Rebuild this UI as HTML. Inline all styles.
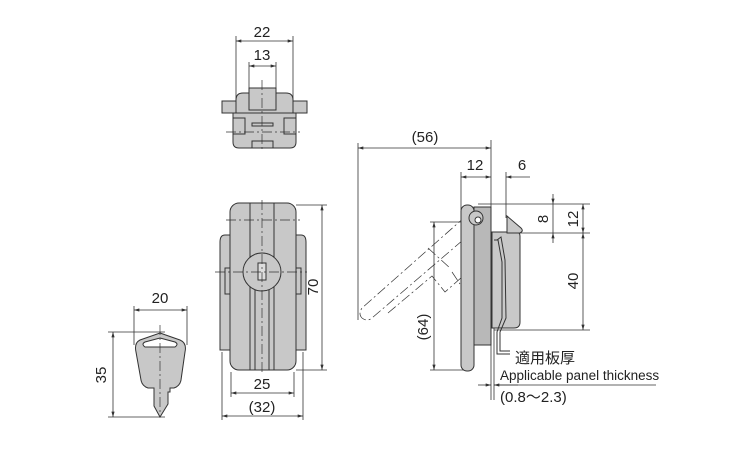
<!DOCTYPE html>
<html><head><meta charset="utf-8"><style>
html,body{margin:0;padding:0;background:#fff;}
svg{display:block;}
text{font-family:"Liberation Sans","Noto Sans CJK JP",sans-serif;fill:#222;}
</style></head><body>
<svg width="750" height="450" viewBox="0 0 750 450" xmlns="http://www.w3.org/2000/svg">
<defs>
<marker id="a" viewBox="0 0 10 6" refX="10" refY="3" markerWidth="7" markerHeight="4" orient="auto-start-reverse"><path d="M0,0L10,3L0,6z" fill="#333"/></marker>
</defs>
<g stroke="#333" stroke-width="0.8" fill="none">
<line x1="236" y1="36" x2="236" y2="100"/><line x1="293" y1="36" x2="293" y2="100"/>
<line x1="236" y1="41" x2="293" y2="41" marker-start="url(#a)" marker-end="url(#a)"/>
<line x1="249" y1="62" x2="249" y2="90"/><line x1="276" y1="62" x2="276" y2="90"/>
<line x1="249" y1="66" x2="276" y2="66" marker-start="url(#a)" marker-end="url(#a)"/>
</g>
<text x="262" y="37" font-size="15" text-anchor="middle">22</text>
<text x="262" y="60" font-size="15" text-anchor="middle">13</text>
<g stroke="#333" stroke-width="1" fill="#c8c8c8">
<rect x="222" y="101" width="14" height="12"/><rect x="293" y="101" width="14" height="12"/>
<path d="M236,113 V100 Q236,93 243,93 H286 Q293,93 293,100 V113 Z"/>
<path d="M233,113 H296 V142 Q296,148 290,148 H239 Q233,148 233,142 Z"/>
<rect x="249" y="88" width="27" height="22"/>
<rect x="252" y="123" width="21" height="3" fill="none"/>
<rect x="233" y="118" width="12" height="16" fill="none"/><rect x="284" y="118" width="12" height="16" fill="none"/>
<rect x="252" y="141" width="21" height="7" fill="none"/>
</g>
<g stroke="#333" stroke-width="0.7" stroke-dasharray="10,3,2,3" fill="none">
<line x1="262" y1="80" x2="262" y2="152"/><line x1="226" y1="132" x2="300" y2="132"/>
</g>
<g stroke="#333" stroke-width="1" fill="#c8c8c8">
<path d="M225,235 Q220,235 220,242 V350 H230 V235 Z"/>
<path d="M301,235 Q306,235 306,242 V350 H296 V235 Z"/>
<rect x="230" y="203" width="66" height="167" rx="9"/>
<line x1="250" y1="203" x2="250" y2="260" /><line x1="274" y1="203" x2="274" y2="260"/>
<line x1="250" y1="285" x2="250" y2="370"/><line x1="274" y1="285" x2="274" y2="370"/>
<line x1="255" y1="289" x2="255" y2="370"/><line x1="269" y1="289" x2="269" y2="370"/>
<rect x="225" y="268" width="5" height="26" fill="none"/><rect x="296" y="268" width="5" height="26" fill="none"/>
<circle cx="262" cy="272" r="19"/>
<rect x="258" y="263" width="8" height="17" fill="#ddd"/>
</g>
<g stroke="#333" stroke-width="0.7" stroke-dasharray="10,3,2,3" fill="none">
<line x1="262" y1="200" x2="262" y2="375"/><line x1="215" y1="272" x2="307" y2="272"/><line x1="226" y1="220" x2="300" y2="220"/>
</g>
<g stroke="#333" stroke-width="0.8" fill="none">
<line x1="296" y1="205" x2="327" y2="205"/><line x1="296" y1="370" x2="327" y2="370"/>
<line x1="322" y1="205" x2="322" y2="370" marker-start="url(#a)" marker-end="url(#a)"/>
<line x1="231" y1="372" x2="231" y2="397"/><line x1="294" y1="372" x2="294" y2="397"/>
<line x1="231" y1="393" x2="294" y2="393" marker-start="url(#a)" marker-end="url(#a)"/>
<line x1="222" y1="352" x2="222" y2="420"/><line x1="303" y1="352" x2="303" y2="420"/>
<line x1="222" y1="416" x2="303" y2="416" marker-start="url(#a)" marker-end="url(#a)"/>
</g>
<text x="318" y="287" font-size="15" text-anchor="middle" transform="rotate(-90 318 287)">70</text>
<text x="262" y="389" font-size="15" text-anchor="middle">25</text>
<text x="262" y="412" font-size="15" text-anchor="middle">(32)</text>
<g stroke="#333" stroke-width="0.8" fill="none">
<line x1="134" y1="306" x2="134" y2="345"/><line x1="187" y1="306" x2="187" y2="345"/>
<line x1="134" y1="310" x2="187" y2="310" marker-start="url(#a)" marker-end="url(#a)"/>
<line x1="108" y1="332" x2="165" y2="332"/><line x1="108" y1="417" x2="165" y2="417"/>
<line x1="113" y1="332" x2="113" y2="417" marker-start="url(#a)" marker-end="url(#a)"/>
</g>
<text x="160" y="303" font-size="15" text-anchor="middle">20</text>
<text x="106" y="375" font-size="15" text-anchor="middle" transform="rotate(-90 106 375)">35</text>
<path d="M160,333 L180,340 Q187,343 185,352 L181,380 Q180,386 174,388 H170 V392 H168 V404 L160,417 L154,406 V388 H148 Q142,386 141,380 L136,352 Q134,343 140,340 Z" fill="#c8c8c8" stroke="#333" stroke-width="1"/>
<path d="M160,338 L175,342 Q179,344 175,347 H145 Q141,344 145,342 Z" fill="#fff" stroke="#333" stroke-width="1"/>
<line x1="160" y1="325" x2="160" y2="415" stroke="#333" stroke-width="0.7" stroke-dasharray="10,3,2,3"/>
<g stroke="#333" stroke-width="0.8" fill="none">
<line x1="358" y1="143" x2="358" y2="320"/>
<line x1="358" y1="148" x2="491" y2="148" marker-start="url(#a)" marker-end="url(#a)"/>
<line x1="461" y1="172" x2="461" y2="210"/>
<line x1="461" y1="177" x2="491" y2="177" marker-start="url(#a)" marker-end="url(#a)"/>
<line x1="506" y1="172" x2="506" y2="218"/>
<line x1="506" y1="177" x2="530" y2="177" marker-start="url(#a)"/>
<line x1="478" y1="204" x2="590" y2="204"/>
<line x1="520" y1="233" x2="590" y2="233"/>
<line x1="553" y1="194" x2="553" y2="204" marker-end="url(#a)"/><line x1="553" y1="243" x2="553" y2="233" marker-end="url(#a)"/>
<line x1="553" y1="204" x2="553" y2="233"/>
<line x1="583" y1="204" x2="583" y2="233" marker-start="url(#a)" marker-end="url(#a)"/>
<line x1="583" y1="233" x2="583" y2="330" marker-start="url(#a)" marker-end="url(#a)"/>
<line x1="494" y1="330" x2="590" y2="330"/>
<line x1="430" y1="222" x2="476" y2="222"/><line x1="430" y1="370" x2="466" y2="370"/>
<line x1="434" y1="222" x2="434" y2="370" marker-start="url(#a)" marker-end="url(#a)"/>
<line x1="491" y1="140" x2="491" y2="400"/><line x1="494" y1="300" x2="494" y2="400"/>
<line x1="478" y1="385" x2="491" y2="385" marker-end="url(#a)"/>
<line x1="494" y1="385" x2="656" y2="385"/>
<line x1="518" y1="385" x2="494" y2="385" marker-end="url(#a)"/>
</g>
<text x="425" y="142" font-size="15" text-anchor="middle">(56)</text>
<text x="475" y="170" font-size="15" text-anchor="middle">12</text>
<text x="522" y="170" font-size="15" text-anchor="middle">6</text>
<text x="548" y="219" font-size="15" text-anchor="middle" transform="rotate(-90 548 219)">8</text>
<text x="578" y="219" font-size="15" text-anchor="middle" transform="rotate(-90 578 219)">12</text>
<text x="578" y="281" font-size="15" text-anchor="middle" transform="rotate(-90 578 281)">40</text>
<text x="428" y="327" font-size="15" text-anchor="middle" transform="rotate(-90 428 327)">(64)</text>
<g stroke="#333" stroke-width="0.7" stroke-dasharray="10,3,2,3" fill="none">
<path d="M466,216 L362,308 Q358,314 362,318 Q367,322 372,318 L470,234"/>
<path d="M388,313 L432,276 L445,292 L470,270"/>
<line x1="428" y1="248" x2="450" y2="268"/><line x1="452" y1="272" x2="460" y2="284"/>
</g>
<g stroke="#333" stroke-width="1" fill="#c8c8c8">
<path d="M492,232 H516 Q520,232 520,236 V322 Q520,328 514,328 H492 Z"/>
<path d="M507,216 L521,228 Q524,231 520,233 H507 Z"/>
<rect x="474" y="207" width="17" height="138" fill="#b8b8b8"/>
<rect x="461" y="205" width="13" height="166" rx="6"/>
<circle cx="476" cy="218" r="7" fill="#c8c8c8"/>
<circle cx="478" cy="220" r="3" fill="#fff"/>
</g>
<path d="M497,240 L501,237 L505,260 L506,318 L500,332 V351 H510" stroke="#333" stroke-width="1" fill="none"/>
<path d="M494,240 L498,240 L502,262 L502,318 L497,332 L497,354 H510" stroke="#333" stroke-width="1" fill="none"/>
<text x="515" y="363" font-size="15">適用板厚</text>
<text x="500" y="380" font-size="13.5">Applicable panel thickness</text>
<text x="500" y="402" font-size="15">(0.8～2.3)</text>
</svg>
</body></html>
